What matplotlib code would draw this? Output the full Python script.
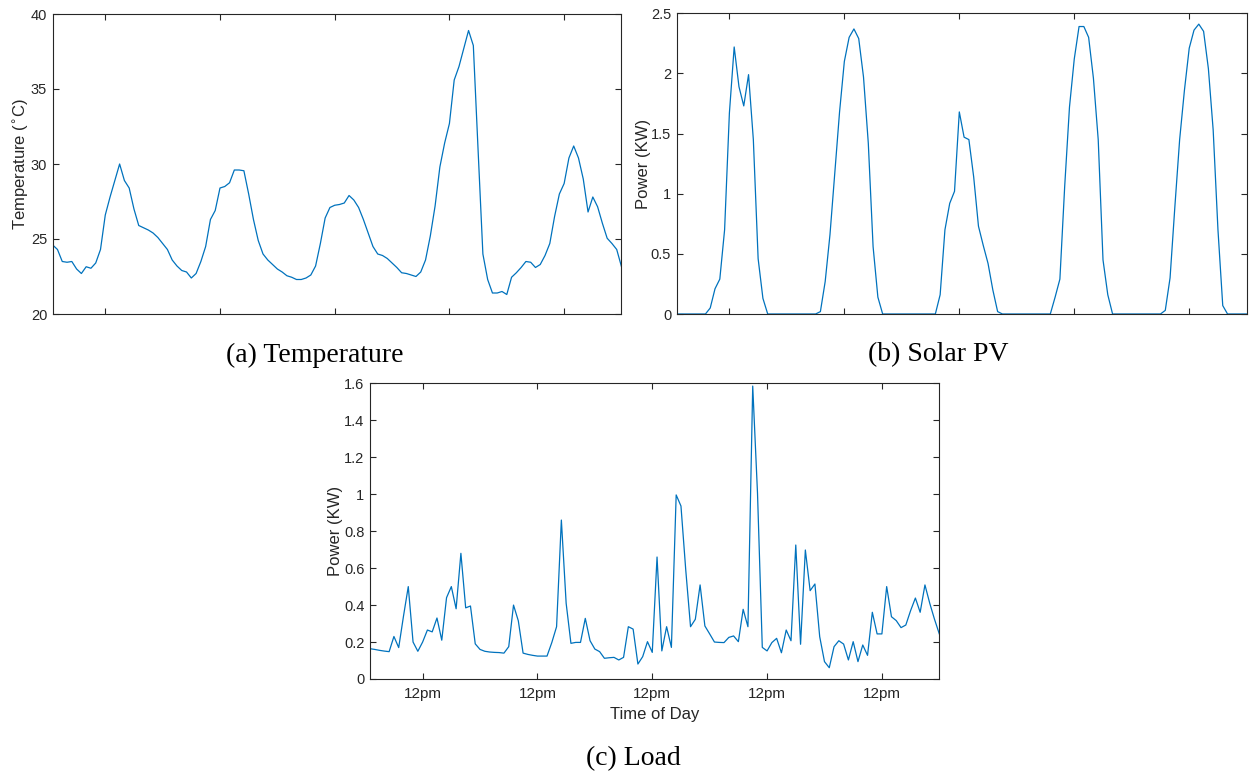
import numpy as np
import matplotlib
matplotlib.use('Agg')
import matplotlib.pyplot as plt
from matplotlib.ticker import FormatStrFormatter

# Hourly samples over five days
hours = np.arange(1, 121)
noon_ticks = [12, 36, 60, 84, 108]
noon_labels = ['12pm', '12pm', '12pm', '12pm', '12pm']

temperature = [
    24.6, 24.3, 23.5, 23.45, 23.5, 23.0, 22.7, 23.15, 23.05, 23.4,
    24.3, 26.6, 27.8, 28.9, 30.0, 28.9, 28.4, 27.0, 25.9, 25.75,
    25.6, 25.4, 25.1, 24.7, 24.3, 23.6, 23.2, 22.9, 22.8, 22.4,
    22.7, 23.5, 24.5, 26.3, 26.9, 28.4, 28.5, 28.75, 29.6, 29.6,
    29.55, 28.0, 26.3, 24.9, 24.0, 23.6, 23.3, 23.0, 22.8, 22.55,
    22.45, 22.3, 22.3, 22.4, 22.6, 23.2, 24.7, 26.4, 27.1, 27.25,
    27.3, 27.4, 27.9, 27.6, 27.1, 26.3, 25.4, 24.5, 24.0, 23.9,
    23.7, 23.4, 23.1, 22.75, 22.7, 22.6, 22.5, 22.8, 23.6, 25.2,
    27.2, 29.8, 31.4, 32.7, 35.6, 36.5, 37.7, 38.9, 37.9, 30.9,
    24.0, 22.3, 21.4, 21.4, 21.5, 21.3, 22.45, 22.75, 23.1, 23.5,
    23.45, 23.1, 23.3, 23.9, 24.7, 26.5, 28.0, 28.7, 30.4, 31.2,
    30.4, 29.0, 26.8, 27.8, 27.15, 26.05, 25.05, 24.7, 24.3, 23.15,
]

solar = [
    0, 0, 0, 0, 0, 0, 0, 0.05, 0.21, 0.29,
    0.70, 1.67, 2.22, 1.89, 1.73, 1.99, 1.45, 0.46, 0.13, 0,
    0, 0, 0, 0, 0, 0, 0, 0, 0, 0,
    0.02, 0.27, 0.66, 1.17, 1.68, 2.10, 2.30, 2.37, 2.29, 1.97,
    1.42, 0.56, 0.14, 0, 0, 0, 0, 0, 0, 0,
    0, 0, 0, 0, 0, 0.16, 0.70, 0.92, 1.02, 1.68,
    1.47, 1.45, 1.14, 0.73, 0.57, 0.42, 0.20, 0.02, 0, 0,
    0, 0, 0, 0, 0, 0, 0, 0, 0, 0.14,
    0.29, 1.06, 1.72, 2.12, 2.39, 2.39, 2.30, 1.96, 1.45, 0.45,
    0.16, 0, 0, 0, 0, 0, 0, 0, 0, 0,
    0, 0, 0.03, 0.30, 0.89, 1.45, 1.86, 2.21, 2.36, 2.41,
    2.35, 2.04, 1.53, 0.70, 0.07, 0, 0, 0, 0, 0,
]

load = [
    0.164, 0.160, 0.155, 0.151, 0.148, 0.23, 0.17, 0.34, 0.50, 0.20,
    0.15, 0.20, 0.265, 0.255, 0.33, 0.21, 0.44, 0.50, 0.38, 0.68,
    0.385, 0.395, 0.19, 0.16, 0.15, 0.146, 0.144, 0.143, 0.14, 0.175,
    0.40, 0.315, 0.14, 0.133, 0.128, 0.124, 0.124, 0.124, 0.197, 0.283,
    0.86, 0.41, 0.193, 0.198, 0.198, 0.328, 0.207, 0.162, 0.148, 0.112,
    0.115, 0.117, 0.103, 0.117, 0.283, 0.27, 0.081, 0.121, 0.202, 0.144,
    0.66, 0.152, 0.283, 0.171, 0.996, 0.936, 0.59, 0.283, 0.323, 0.509,
    0.287, 0.244, 0.20, 0.198, 0.197, 0.225, 0.233, 0.202, 0.377, 0.283,
    1.585, 1.005, 0.171, 0.152, 0.197, 0.22, 0.142, 0.265, 0.207, 0.725,
    0.188, 0.698, 0.478, 0.514, 0.229, 0.094, 0.061, 0.175, 0.207, 0.189,
    0.103, 0.202, 0.094, 0.184, 0.128, 0.361, 0.244, 0.244, 0.50, 0.337,
    0.316, 0.278, 0.292, 0.37, 0.438, 0.361, 0.509, 0.41, 0.323, 0.244,
]

# MATLAB-like look
plt.rcParams['font.family'] = ['Liberation Sans', 'DejaVu Sans']
plt.rcParams['font.size'] = 10.5
line_color = '#0072BD'
axis_color = '#262626'
label_size = 12


def style_axes(ax):
    for spine in ax.spines.values():
        spine.set_color(axis_color)
        spine.set_linewidth(0.8)
    ax.tick_params(direction='in', length=4, width=0.8, color=axis_color,
                   labelcolor=axis_color, top=True, right=True, pad=4)
    ax.set_xlim(1, 120)
    ax.set_xticks(noon_ticks)
    ax.yaxis.set_major_formatter(FormatStrFormatter('%g'))


W, H = 1249, 774
fig = plt.figure(figsize=(W / 100, H / 100), dpi=100)

# (a) Temperature
ax1 = fig.add_axes([52.7 / W, 1 - 314 / H, 568.8 / W, 300 / H])
ax1.plot(hours, temperature, color=line_color, lw=0.9)
style_axes(ax1)
ax1.set_ylim(20, 40)
ax1.set_yticks([20, 25, 30, 35, 40])
ax1.set_xticklabels([])
ax1.set_ylabel(r'Temperature ($^{\circ}$C)', color=axis_color,
               fontsize=label_size, labelpad=0)

# (b) Solar PV
ax2 = fig.add_axes([676.7 / W, 1 - 314 / H, 570 / W, 300.7 / H])
ax2.plot(hours, solar, color=line_color, lw=0.9)
style_axes(ax2)
ax2.set_ylim(0, 2.5)
ax2.set_yticks([0, 0.5, 1, 1.5, 2, 2.5])
ax2.set_xticklabels([])
ax2.set_ylabel('Power (KW)', color=axis_color, fontsize=label_size,
               labelpad=0)

# (c) Load
ax3 = fig.add_axes([370 / W, 1 - 679 / H, 569.3 / W, 295.7 / H])
ax3.plot(hours, load, color=line_color, lw=0.9)
style_axes(ax3)
ax3.set_ylim(0, 1.6)
ax3.set_yticks([0, 0.2, 0.4, 0.6, 0.8, 1, 1.2, 1.4, 1.6])
ax3.set_xticklabels(noon_labels, fontsize=11)
ax3.tick_params(axis='x', pad=6)
ax3.set_xlabel('Time of Day', color=axis_color, fontsize=label_size,
               labelpad=4)
ax3.set_ylabel('Power (KW)', color=axis_color, fontsize=label_size,
               labelpad=1)

# Sub-figure captions
cap = dict(family=['Liberation Serif', 'DejaVu Serif'], fontsize=20,
           ha='center', va='center', color='black')
fig.text(315 / W, 1 - 355 / H, '(a) Temperature', **cap)
fig.text(938 / W, 1 - 355 / H, '(b) Solar PV', **cap)
fig.text(633 / W, 1 - 759 / H, '(c) Load', **cap)

plt.savefig('out.png', dpi=100)
plt.close()
